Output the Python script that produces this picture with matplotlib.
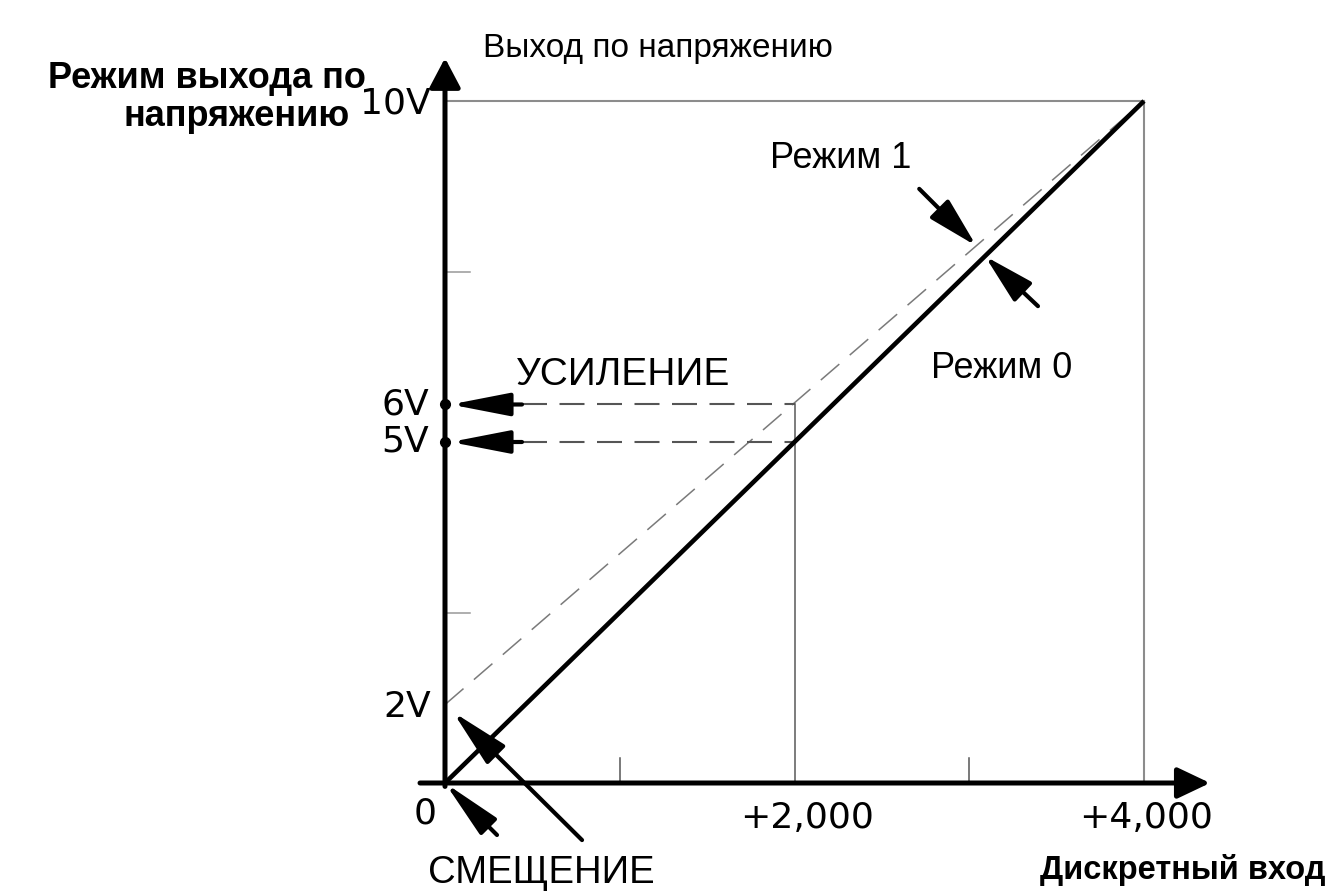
import matplotlib
matplotlib.use("Agg")
import matplotlib.pyplot as plt
import numpy as np

plt.rcParams["font.family"] = ["Liberation Sans", "DejaVu Sans"]

# schematic data: input counts vs output (0..10 scale of the drawing)
x_counts = [0, 4000]
mode0_out = [0.0, 10.0]     # Режим 0 (без смещения)
mode1_out = [1.15, 10.0]    # Режим 1 (со смещением)
mid_count = 2000
gain_levels = [5.0, 5.55]
gain_labels = ["5V", "6V"]
y_marks = [1.15, 10.0]
y_mark_labels = ["2V", "10V"]
x_ticks = [2000, 4000]
x_tick_labels = ["+2,000", "+4,000"]
minor_x = [1000, 3000]
minor_y = [2.5, 7.5]

W, H = 1329, 894
X0, Y0 = 445, 783          # origin in pixels
SX = 699 / 4000            # px per count
SY = 682 / 10              # px per unit
TICK_FONT = ["DejaVu Sans"]
XLAB_SHIFT = [13, 2]       # px nudge of x tick labels


def px(x, y):
    return (x - X0) / SX, (Y0 - y) / SY


def arrow(xy, xytext, hl, hw, lw=3.0, coords="data", shrink=0):
    ax.annotate("", xy=xy, xytext=xytext, textcoords=coords,
                arrowprops=dict(arrowstyle=f"-|>,head_length={hl},head_width={hw}",
                                mutation_scale=1, lw=lw, color="black",
                                shrinkA=0, shrinkB=shrink))


fig = plt.figure(figsize=(W / 100, H / 100), dpi=100)
ax = fig.add_axes([0, 0, 1, 1])
ax.set_xlim(-X0 / SX, (W - X0) / SX)
ax.set_ylim(-(H - Y0) / SY, Y0 / SY)
ax.axis("off")

# frame lines
ax.plot([0, x_counts[-1]], [mode0_out[-1]] * 2, color="#8c8c8c", lw=1.5)
ax.plot([x_counts[-1]] * 2, [0, mode0_out[-1]], color="#8c8c8c", lw=1.5)
ax.plot([mid_count] * 2, [0, gain_levels[-1]], color="#666666", lw=1.2)

# small ticks
for t in minor_x:
    ax.plot([t, t], [0, 25 / SY], color="#555555", lw=1.1)
for t in minor_y:
    ax.plot([0, 25 / SX], [t, t], color="#999999", lw=1.1)

# lines
ax.plot(x_counts, mode1_out, color="#7a7a7a", lw=1.1, dashes=(16, 9))
ax.plot(x_counts, mode0_out, color="black", lw=3.3, solid_capstyle="butt", zorder=4)

# gain markers
tail = 77 / SX
for lev, lab in zip(gain_levels, gain_labels):
    ax.plot([tail, mid_count], [lev, lev], color="#555555", lw=1.5, dashes=(12, 6))
    arrow((0, lev), (tail, lev), 36, 7, shrink=4)
    ax.text(-16 / SX, lev, lab, ha="right", va="center", fontsize=26, family=TICK_FONT)
ax.plot([0] * len(gain_levels), gain_levels, "o", color="black", ms=7, zorder=5)

for lev, lab in zip(y_marks, y_mark_labels):
    ax.text(-14 / SX, lev - 0.04, lab, ha="right", va="center", fontsize=26, family=TICK_FONT)

# axes with arrows
arrow((0, 10.63), (0, -0.05), 18, 9.5, lw=3.6)
arrow((4378, 0), (-143, 0), 20, 9.5, lw=3.6)

for t, lab, dx in zip(x_ticks, x_tick_labels, XLAB_SHIFT):
    ax.text(t + dx / SX, -35 / SY, lab, ha="center", va="center", fontsize=26, family=TICK_FONT)
ax.text(*px(425, 813), "0", ha="center", va="center", fontsize=26, family=TICK_FONT)

# mode pointers
x1 = 3040
arrow((x1, np.interp(x1, x_counts, mode1_out)), (-57, 57), 31, 8, coords="offset pixels")
x0 = 3090
arrow((x0, np.interp(x0, x_counts, mode0_out)), (53, -50), 31, 8, coords="offset pixels")

# offset pointers
arrow((0, 0), (52, -52), 36, 7, coords="offset pixels")
arrow((x_counts[0] + 46, mode1_out[0] - 0.11), (129, -128), 36, 8, coords="offset pixels")

# texts
ax.text(*px(366, 78), "Режим выхода по", ha="right", va="center", fontsize=26,
        fontweight="bold")
ax.text(*px(350, 116), "напряжению", ha="right", va="center", fontsize=26,
        fontweight="bold")
ax.text(*px(483, 48), "Выход по напряжению", ha="left", va="center", fontsize=24)
ax.text(*px(623, 375), "УСИЛЕНИЕ", ha="center", va="center", fontsize=28)
ax.text(*px(841, 158), "Режим 1", ha="center", va="center", fontsize=26)
ax.text(*px(1002, 368), "Режим 0", ha="center", va="center", fontsize=26)
ax.text(*px(541, 873), "СМЕЩЕНИЕ", ha="center", va="center", fontsize=27.5)
ax.text(*px(1326, 870), "Дискретный вход", ha="right", va="center", fontsize=23.5,
        fontweight="bold")

fig.savefig("out.png", dpi=100)
